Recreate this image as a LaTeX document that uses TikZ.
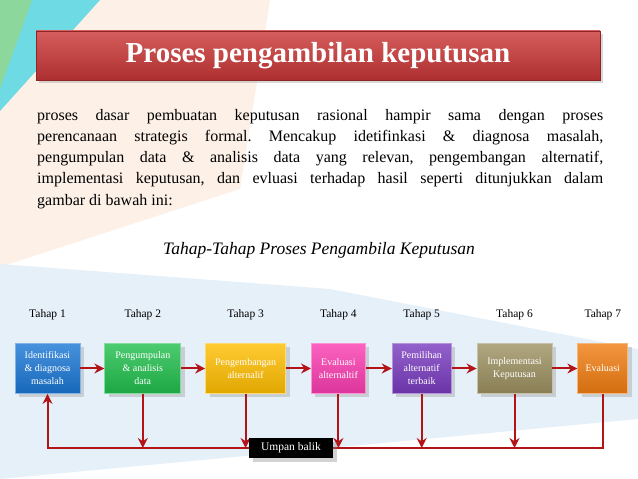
\documentclass[tikz,border=0pt]{standalone}
\usepackage{fontspec}
\setmainfont{Liberation Serif}
\usetikzlibrary{positioning,shadows,arrows.meta}
\frenchspacing

\definecolor{arrowred}{RGB}{178,20,24}
\definecolor{titlered}{RGB}{204,54,54}
\definecolor{stageblue}{RGB}{26,118,212}
\definecolor{stagegreen}{RGB}{32,190,76}
\definecolor{stageyellow}{RGB}{255,190,0}
\definecolor{stagepink}{RGB}{250,60,176}
\definecolor{stagepurple}{RGB}{120,58,190}
\definecolor{stageolive}{RGB}{156,144,96}
\definecolor{stageorange}{RGB}{240,124,16}
\definecolor{peach}{RGB}{253,240,231}
\definecolor{teal}{RGB}{110,218,228}
\definecolor{leaf}{RGB}{140,216,156}
\definecolor{skyband}{RGB}{230,240,249}

\begin{document}
\begin{tikzpicture}[x=1pt,y=1pt,
    stage/.style={rectangle,minimum height=50pt,inner sep=2pt,align=center,text=white,
      top color=#1!80!white,bottom color=#1!88!black,draw=#1!55!white,line width=0.8pt,
      font=\fontsize{10}{13}\selectfont,
      drop shadow={opacity=0.3,shadow xshift=4pt,shadow yshift=-4pt}}]
        \tikzstyle{tahap}=[font=\fontsize{11.5}{13}\selectfont,inner sep=0pt]
        \tikzstyle{flow}=[draw=arrowred,line width=2pt,-{Stealth[length=10pt,width=10pt]}]

        % background
        \useasboundingbox (0,0) rectangle (638,479);
        \fill[white] (0,0) rectangle (638,479);
        \fill[peach] (0,479) -- (270,479) -- (240,290) -- (0,212) -- cycle;
        \fill[skyband] (0,215) -- (330,190) -- (638,130) -- (638,60) -- (0,0) -- cycle;
        \fill[teal] (0,479) -- (100,479) -- (0,368) -- cycle;
        \fill[leaf] (0,479) -- (32,479) -- (0,390) -- cycle;

        % title and text
        \node[rectangle,minimum width=564pt,minimum height=49pt,top color=titlered!80!white,
          bottom color=titlered!85!black,draw=titlered!70!black,text=white,
          font=\bfseries\fontsize{29}{32}\selectfont,
          drop shadow={opacity=0.3,shadow xshift=3pt,shadow yshift=-3pt}] (title) at (318,423.5)
          {Proses pengambilan keputusan};
        \node[anchor=north west,text width=566pt,align=justify,inner sep=0pt,
          font=\fontsize{16}{21.2}\selectfont] (intro) at (37,370)
          {proses dasar pembuatan keputusan rasional hampir sama dengan proses\linebreak
           perencanaan strategis formal. Mencakup idetifinkasi \& diagnosa masalah,\linebreak
           pengumpulan data \& analisis data yang relevan, pengembangan alternatif,\linebreak
           implementasi keputusan, dan evluasi terhadap hasil seperti ditunjukkan dalam\linebreak
           gambar di bawah ini:};
        \node[font=\itshape\fontsize{17.5}{20}\selectfont] (caption) at (319,229)
          {Tahap-Tahap Proses Pengambila Keputusan};

        % stages
        \node[stage=stageblue,minimum width=65pt] (b1) at (47.5,110.5) {Identifikasi\\ \& diagnosa\\ masalah};
        \node[stage=stagegreen,minimum width=76pt,right=24pt of b1] (b2) {Pengumpulan\\ \& analisis\\ data};
        \node[stage=stageyellow,minimum width=80pt,right=24pt of b2] (b3) {Pengembangan\\ alternalif};
        \node[stage=stagepink,minimum width=54pt,right=25pt of b3] (b4) {Evaluasi\\ alternaltif};
        \node[stage=stagepurple,minimum width=59pt,right=26pt of b4] (b5) {Pemilihan\\ alternatif\\ terbaik};
        \node[stage=stageolive,minimum width=75pt,right=25pt of b5] (b6) {Implementasi\\ Keputusan};
        \node[stage=stageorange,minimum width=50pt,right=25pt of b6] (b7) {Evaluasi};

        \foreach \n in {1,...,7}
            \node[tahap,above=23pt of b\n] (t\n) {Tahap \n};

        \draw[flow] (b1) -- (b2);
        \draw[flow] (b2) -- (b3);
        \draw[flow] (b3) -- (b4);
        \draw[flow] (b4) -- (b5);
        \draw[flow] (b5) -- (b6);
        \draw[flow] (b6) -- (b7);

        % feedback loop
        \coordinate (fb) at (0,31);
        \draw[flow] (b7.south) -- (b7.south |- fb) -- (b1.south |- fb) -- (b1.south);
        \foreach \n in {2,...,6}
            \draw[flow] (b\n.south) -- (b\n.south |- fb);
        \node[fill=black,text=white,minimum width=84pt,minimum height=20pt,inner sep=0pt,
          font=\fontsize{11.5}{13}\selectfont,
          drop shadow={opacity=0.35,shadow xshift=4pt,shadow yshift=-4pt}] (umpan) at (291,31) {Umpan balik};
    \end{tikzpicture}
\end{document}
